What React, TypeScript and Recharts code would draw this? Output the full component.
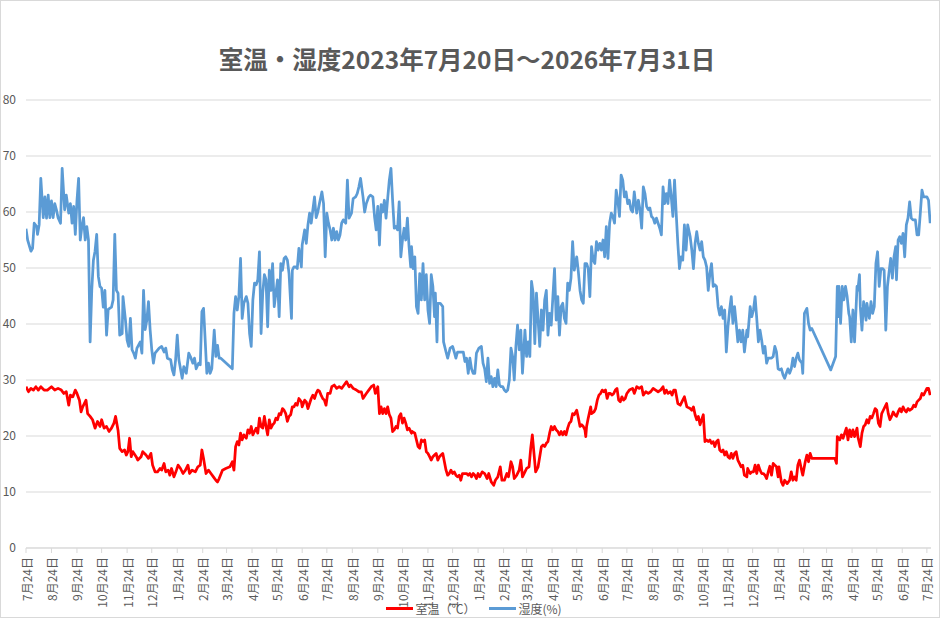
import { LineChart, Line, XAxis, YAxis, CartesianGrid, Legend } from "recharts";

// 日数は 2023/7/24 からの経過日
const humidity: [number, number][] = [
  [0,57],[2,55],[6,53],[8,53.5],[10,58],[13,57.4],[14,56],[16,57.7],[18,66],[21,59],[23,62.7],[25,58.9],[27,63],[29,59],[31,62],[33,59],[35,61.5],[37,60.4],[39,59],[42,58],[44,67.8],[47,60.4],[49,63],[52,59.8],[54,61.5],[56,58],[58,61],[60,56],[62,62],[64,66],[66,55],[68,57.4],[70,59],[72,55],[74,57.4],[76,55],[78,36.8],[80,46],[82,51.4],[84,53],[86,56],[88,48.5],[90,46.7],[92,46.4],[94,43],[96,46],[98,38],[100,42.6],[104,43],[106,44.3],[108,56],[110,46],[112,45.5],[114,38],[117,38.3],[118,44.9],[121,40.7],[123,37.1],[125,36],[127,41],[129,35.4],[131,34.8],[133,33.9],[135,35.7],[139,36.8],[141,34.8],[143,46],[145,39],[147,40.7],[149,44],[151,39],[153,35.4],[155,33],[157,34.8],[162,35.7],[165,36],[168,35],[170,35.7],[172,33.9],[176,33.6],[178,31.8],[180,30.9],[182,33.6],[184,38],[186,33.6],[190,30.3],[192,32.4],[195,31.2],[198,34.8],[200,34.2],[203,33],[205,33.9],[207,32],[210,33],[212,32.7],[214,42.2],[216,42.8],[218,37.1],[220,31.2],[222,33],[224,31.2],[226,32],[229,38.9],[231,34.2],[233,36.2],[235,33.9],[237,33.9],
  [251,32],[253,41.9],[255,44.9],[257,42.5],[259,44.9],[261,51.7],[263,41],[265,43.7],[268,44.9],[270,43.7],[272,38.3],[274,36],[276,44.3],[278,47.3],[280,47],[282,47.9],[284,52.9],[286,38.3],[288,45.5],[290,48.8],[292,47.9],[294,39.5],[296,49.6],[298,46],[300,50.8],[302,43.1],[304,45.5],[306,47.9],[308,41.3],[310,50.8],[312,49.6],[314,51.7],[316,52],[318,51.4],[320,49],[323,41],[324,49.6],[326,50.2],[328,50.2],[330,49.9],[332,53.5],[335,50.2],[336,54.1],[339,56.8],[341,54.4],[343,57.7],[345,59.8],[347,58],[349,60.4],[351,62.7],[353,59],[355,60],[357,61.5],[360,63.6],[362,61.5],[364,52],[366,59.8],[368,58],[370,56.8],[372,55],[374,57.1],[376,55],[378,56.5],[380,55],[382,55.9],[384,58],[386,58.6],[389,58],[391,65.7],[393,58.9],[396,59.8],[398,62.4],[401,62.7],[403,63.3],[405,64.5],[407,66],[410,62.7],[412,60],[414,61.5],[417,62.7],[419,63],[422,62.7],[424,59.2],[426,56.8],[428,61],[430,54.1],[432,61.3],[434,60],[436,62.1],[438,58.9],[440,62.4],[442,65.7],[444,67.8],[446,62.1],[448,57.1],[450,57.4],[452,56.8],[454,61.8],[456,52],[458,55],[460,57.1],[462,55],[464,58.9],[466,53.8],[468,50.2],[469,53.8],[471,49.9],[473,52],[475,43.1],[477,41.9],[479,49],[481,44.3],[483,50.8],[485,44.3],[487,48.8],[489,42.5],[491,40.1],[493,48.8],[495,46.7],[497,41.3],[498,45.5],[500,36.8],[501,43.7],[504,43.7],[507,43.1],[508,36.8],[511,35],[513,33.9],[516,35.7],[519,36],[521,35],[523,33.9],[525,35],[529,35],[532,35],[534,33.3],[536,33.9],[538,31.2],[540,33.9],[542,32],[544,31.2],[546,31.2],[548,34.8],[551,35.7],
  [554,36],[556,33],[558,32],[560,29.7],[562,33.9],[564,29.4],[566,30.6],[568,28.8],[570,30.3],[572,28.8],[574,31.8],[576,29.1],[578,28.8],[580,28.8],[582,28.2],[584,27.9],[586,28.2],[588,30],[590,35.7],[592,34.2],[594,30],[596,36],[598,39.8],[600,35.4],[602,38.9],[604,31.2],[607,38.9],[609,34.2],[611,36.8],[613,34.2],[615,47.6],[617,45.5],[619,36.5],[621,45.5],[623,40.7],[625,36],[627,42.5],[629,38.9],[631,44.3],[633,46],[635,38],[637,41.9],[639,39.8],[641,44.9],[643,49.9],[645,40.7],[647,44.9],[649,38],[651,43.1],[653,43.7],[655,41],[657,40.1],[659,47.3],[661,46],[663,48.2],[665,54.7],[667,49.6],[670,52],[672,49.3],[674,46],[676,44.3],[678,43.7],[680,50.8],[682,50.8],[684,49.9],[686,44.9],[688,53.8],[690,51.4],[692,50.8],[694,54.7],[696,53.2],[698,54.4],[700,53.2],[702,55],[704,52],[706,57.4],[708,51.7],[710,58],[712,59.8],[714,59.2],[716,58],[718,63.9],[720,62.1],[722,59.2],[724,66.6],[726,65.7],[728,62.7],[730,63.6],[732,61.5],[734,62.1],[736,60.4],[738,60],[740,63.6],[743,59.8],[745,62.1],[747,60.4],[749,57.1],[751,64.5],[753,63.3],[755,61],[757,60.4],[759,60.7],[761,59.2],[763,58.9],[765,58],[767,58.9],[769,58],[771,57.1],[773,55.9],[775,64.5],[777,61.5],[779,63.3],[781,61.5],[783,65.7],[785,62.7],[787,59.2],[789,65.7],[791,59.8],[793,54.4],[795,49.9],[797,52],[799,51.4],[801,57.7],[803,53.2],[805,57.7],[808,55.6],[810,53.2],[812,49.9],[814,54.4],[816,56.5],[818,54.4],[820,53.2],[822,54.7],[824,52],[826,51.4],[828,50.2],[830,46],[832,49],[834,50.8],[836,46.7],[838,47],[840,46.7],[842,43.1],[844,41.6],[846,43.1],[848,41],[850,42.5],[852,35],[854,39.5],[856,42.5],[858,44.9],[860,40.1],[862,43.1],[864,40.1],[866,36.8],[868,38.9],[870,36.8],[872,38.9],[874,35],[877,38.9],[878,37.7],[881,43.1],[883,41.3],[885,42.5],[887,44.9],[889,41],[891,36.8],[893,38.9],[895,37.1],[897,34.8],[899,36],[901,33],[903,33.9],[907,33.9],[909,34.2],[911,36],[913,35],[915,32],[917,31.8],[919,32],[921,30.9],[923,30.3],[925,31.2],[927,32],[929,31.2],[931,32],[933,33.9],[935,32.4],[937,33.9],[939,34.8],[941,33.6],[944,33],[945,31.2],[947,41.9],[950,42.8],[952,40.1],[954,38.9],[956,39.2],
  [979,31.8],[982,33],[985,34.2],[987,46.7],[988,41.3],[989,46.7],[991,40.1],[993,46.7],[995,44.3],[997,46.7],[999,44.9],[1001,41.9],[1002,41.3],[1004,36.8],[1006,42.5],[1008,36.8],[1011,46.7],[1012,46],[1014,48.8],[1015,43.1],[1017,38.9],[1019,44],[1022,40.7],[1023,43.7],[1026,41],[1028,44],[1030,41.9],[1032,43.1],[1034,50.8],[1036,52.9],[1038,46.7],[1040,49.9],[1042,49.9],[1044,49.6],[1046,38.9],[1048,46.7],[1050,49.3],[1052,51.7],[1054,48.2],[1056,52],[1058,53.8],[1059,47.9],[1061,55],[1063,55.6],[1065,54.4],[1067,56.2],[1069,52],[1071,57.7],[1073,58.9],[1075,61.8],[1077,58.9],[1079,58.6],[1082,58.6],[1084,55.9],[1086,55.9],[1088,59.8],[1090,63.9],[1092,62.7],[1094,62.7],[1096,62.7],[1098,62.1],[1100,58],
];

const temperature: [number, number][] = [
  [0,28.8],[3,27.9],[6,28.5],[9,28.2],[12,28.8],[15,28.2],[18,28.8],[22,28.2],[26,28.2],[31,28.8],[35,28.2],[39,28.5],[43,28.2],[46,27.6],[49,27.9],[52,25.5],[54,27.3],[57,27],[60,28.2],[62,27.6],[65,26.4],[67,24.3],[69,25.2],[73,26.4],[75,24],[78,23.5],[81,22.9],[84,21.4],[87,22.6],[90,21.7],[92,22.9],[95,21.4],[98,21.7],[101,20.8],[104,21.4],[107,22.3],[109,23.5],[112,21],[114,17.8],[117,17.2],[120,17.5],[122,16.6],[124,17.2],[126,19.6],[128,16.3],[130,17.2],[134,16.3],[136,15.7],[140,16.3],[142,17.2],[146,16.6],[149,16],[152,16.9],[154,14.8],[157,13.6],[160,13.6],[163,14.2],[165,13.9],[168,15.1],[170,13.6],[173,13.9],[175,13],[177,14.2],[180,12.7],[183,13.9],[185,14.8],[188,14.2],[191,13.3],[194,13.9],[197,14.8],[199,13.3],[202,13.9],[206,13.6],[209,14.5],[212,14.8],[214,17.5],[216,16],[219,13.3],[222,13.9],[225,13.3],[228,12.7],[231,12.1],[233,11.8],[235,12.4],[239,13.9],[243,14.2],[248,14.5],[251,15.4],[253,13.9],[255,18.1],[257,19],[259,18.4],[261,20.5],[263,19.3],[265,20.2],[268,19.6],[270,21.1],[272,20.5],[274,21.7],[276,20.2],[278,20.8],[280,21.4],[282,20.5],[284,23.2],[286,21.7],[288,21.4],[290,23.5],[292,21.7],[294,20.2],[296,22.9],[298,21.4],[300,22],[302,22.3],[304,23.2],[306,22.9],[308,24],[310,23.8],[312,24.9],[314,24.6],[316,24],[318,22.6],[320,23.5],[322,23.8],[324,25.2],[326,25.2],[328,25.8],[330,25.5],[332,26.7],[335,26.1],[336,25.2],[339,26.4],[341,26.1],[343,24.9],[345,25.8],[347,26.7],[349,27.3],[351,26.7],[353,27.6],[355,28.2],[357,28],[359,27.3],[361,26.7],[363,26.4],[365,25.5],[367,27.6],[370,27.6],[372,28.8],[375,29.1],[378,28.5],[381,28.8],[384,28.5],[387,29.1],[390,29.7],[393,28.8],[395,29.1],[398,28.5],[402,28.2],[405,27.9],[408,27.9],[410,26.7],[414,27.6],[417,28.2],[420,28.8],[423,29.1],[425,27.6],[428,28.8],[430,24],[432,25.2],[434,24],[436,24.9],[438,24],[440,25.2],[442,23.8],[444,23.2],[446,20.8],[448,21.1],[450,21.7],[452,21.4],[454,23.5],[456,24],[458,22.3],[460,23.2],[462,22.3],[464,21.1],[466,21.4],[469,20.5],[470,20.8],[473,20.5],[475,19.3],[477,18.1],[479,17.8],[481,19.3],[483,19],[485,19.3],[487,17.2],[489,16.9],[491,16.3],[493,15.7],[495,16.3],[497,16.6],[499,16.9],[501,15.7],[503,16.3],[505,16.6],[507,16.9],[509,15.4],[511,13.9],[513,13],[515,13.3],[517,13.9],[519,13.3],[521,13.6],[523,13],[525,12.7],[527,13],[529,12.1],[531,13.3],[536,13.3],[538,13],[540,13.3],[542,12.7],[544,13.3],[546,13],[548,12.4],[550,13.3],
  [552,12.7],[555,13.6],[558,13.3],[561,12.4],[563,13.3],[566,11.8],[569,11.2],[571,12.1],[574,12.7],[577,14.5],[579,12.1],[582,12.1],[585,13.3],[587,12.7],[590,15.4],[592,14.5],[594,12.4],[597,13],[600,13.9],[602,15.7],[604,12.7],[607,13.6],[609,14.2],[612,14.5],[614,17.8],[616,20.2],[618,16.9],[620,13.6],[623,14.5],[625,16.3],[627,18.1],[629,18.4],[631,18.1],[633,18.7],[635,19],[637,20.5],[639,21.7],[641,21.1],[643,21.7],[645,21.1],[647,20.8],[649,20.2],[651,20.8],[653,20.2],[655,20.8],[657,20.2],[659,21.4],[661,22.3],[663,22.6],[665,24],[667,23.8],[670,24.6],[672,23.2],[674,21.7],[676,22],[678,21.7],[680,21.1],[681,19.9],[682,21.7],[684,23.2],[687,25.2],[688,24],[691,24.3],[693,24.9],[695,26.4],[697,27.3],[699,27.6],[701,28.2],[703,27.9],[705,28.2],[707,26.7],[709,27.6],[711,27.6],[713,27.3],[715,27.6],[717,28.2],[719,28.5],[721,26.4],[723,26.1],[725,27],[727,26.4],[729,26.7],[731,27.6],[734,28.2],[738,28.5],[740,27.6],[743,28.8],[746,28.5],[749,28.8],[751,27.3],[754,27.9],[757,27.6],[760,27.9],[763,28.5],[766,28.2],[769,27.9],[772,28.2],[775,28.8],[777,27.6],[779,28.2],[781,27.6],[784,27.9],[786,27.3],[788,28.2],[790,28.2],[793,25.8],[796,25.5],[799,26.4],[801,27],[804,25.2],[808,24.9],[810,24.6],[812,25.2],[814,23.8],[816,22.9],[818,23.5],[820,22],[822,22.9],[824,23.8],[826,19],[828,19.3],[830,19],[832,19.3],[834,18.7],[836,19],[838,18.1],[840,19],[842,19.3],[844,17.5],[846,17.2],[848,17.5],[850,16.6],[852,17.2],[854,16.3],[856,16],[858,16.9],[860,16],[862,16.9],[864,17.2],[866,15.7],[868,15.1],[870,14.5],[872,14.8],[874,13],[877,12.7],[878,14.2],[881,13.3],[883,13.6],[885,13.6],[887,14.8],[889,13.3],[891,14.8],[893,13.9],[895,13.3],[897,13.3],[899,13],[901,12.4],[903,13.6],[905,14.6],[907,13],[909,15.1],[911,14.8],[913,14.5],[915,12.7],[916,14.5],[919,11.8],[921,11.2],[923,12.1],[926,11.5],[929,12.1],[931,13.6],[933,12.1],[935,12.7],[937,12.1],[939,14.8],[941,15.7],[944,13.6],[945,13],[948,15.4],[950,16.6],[952,15.4],[954,16.9],[956,16],
  [984,16],[986,15.1],[987,19.9],[990,19.3],[992,20.2],[994,19.6],[996,20.5],[998,21.4],[1000,19.3],[1002,21.1],[1004,19.9],[1006,21.1],[1008,19.9],[1011,21.4],[1012,19.9],[1015,18.1],[1017,20.5],[1019,21.7],[1021,22],[1023,22.9],[1025,22.3],[1027,23.5],[1029,23.2],[1031,24],[1033,24.9],[1035,24.6],[1037,22.3],[1039,21.7],[1041,24],[1043,24.6],[1045,25.2],[1047,25.8],[1049,24],[1051,22.9],[1053,23.5],[1055,24.3],[1057,23.8],[1059,23.5],[1061,24.3],[1063,24.9],[1065,24.3],[1067,25.2],[1069,24.6],[1071,24.3],[1073,24.9],[1075,24.6],[1078,24.9],[1080,25.5],[1082,25.2],[1084,26.1],[1086,26.4],[1088,26.7],[1090,27.6],[1092,27.3],[1094,27.9],[1096,28.5],[1098,28.5],[1100,27.3],
];

const Y_TICKS = [0, 10, 20, 30, 40, 50, 60, 70, 80];

// 目盛: 毎月24日
const START = Date.UTC(2023, 6, 24);
const X_TICKS = Array.from({ length: 37 }, (_, k) => (Date.UTC(2023, 6 + k, 24) - START) / 86400000);
const X_LABELS = Array.from({ length: 37 }, (_, k) => `${((6 + k) % 12) + 1}月24日`);

const humData = humidity.map(([day, v]) => ({ day, v }));
const tmpData = temperature.map(([day, v]) => ({ day, v }));

const FONT = '"Noto Sans CJK JP", "Noto Sans", sans-serif';
const TEXT = "#595959";
const GRID = "#d9d9d9";

function XTick({ x, y, payload }: any) {
  const i = X_TICKS.indexOf(payload.value);
  return (
    <text
      x={x}
      y={y}
      transform={`rotate(-90 ${x} ${y})`}
      textAnchor="end"
      dominantBaseline="central"
      fontSize={12}
      fill={TEXT}
      fontFamily={FONT}
    >
      {X_LABELS[i]}
    </text>
  );
}

function LegendBox() {
  const item = (color: string, label: string) => (
    <span style={{ display: "inline-flex", alignItems: "center", margin: "0 7px" }}>
      <span style={{ display: "inline-block", width: 27, height: 3, background: color, marginRight: 2 }} />
      <span>{label}</span>
    </span>
  );
  return (
    <div style={{ textAlign: "center", fontSize: 12, color: TEXT, fontFamily: FONT, paddingLeft: 8 }}>
      {item("#ff0000", "室温（℃）")}
      {item("#5b9bd5", "湿度(%)")}
    </div>
  );
}

export default function App() {
  return (
    <div
      style={{
        position: "relative",
        width: 940,
        height: 618,
        border: `1px solid ${GRID}`,
        boxSizing: "border-box",
        background: "#fff",
        fontFamily: FONT,
      }}
    >
      <style>{`body{margin:0}`}</style>
      <div
        style={{
          position: "absolute",
          top: 41,
          left: 0,
          width: 932,
          textAlign: "center",
          fontSize: 24.5,
          fontWeight: 700,
          color: TEXT,
          lineHeight: "34px",
        }}
      >
        室温・湿度2023年7月20日～2026年7月31日
      </div>
      <div style={{ position: "absolute", top: -1, left: -1 }}>
        <LineChart width={940} height={618} margin={{ top: 100, right: 9, bottom: 10, left: 0 }}>
          <CartesianGrid vertical={false} stroke={GRID} />
          <XAxis
            type="number"
            dataKey="day"
            domain={[0, 1101]}
            ticks={X_TICKS}
            interval={0}
            height={60}
            tick={<XTick />}
            tickSize={5}
            tickMargin={4}
            axisLine={{ stroke: GRID }}
            tickLine={{ stroke: GRID }}
            allowDataOverflow
          />
          <YAxis
            type="number"
            domain={[0, 80]}
            ticks={Y_TICKS}
            width={26}
            axisLine={false}
            tickLine={false}
            tickSize={0}
            tickMargin={10}
            tick={{ fill: TEXT, fontSize: 12, fontFamily: FONT }}
          />
          <Line
            data={tmpData}
            dataKey="v"
            name="室温（℃）"
            stroke="#ff0000"
            strokeWidth={2.75}
            dot={false}
            strokeLinejoin="round"
            isAnimationActive={false}
          />
          <Line
            data={humData}
            dataKey="v"
            name="湿度(%)"
            stroke="#5b9bd5"
            strokeWidth={2.75}
            dot={false}
            strokeLinejoin="round"
            isAnimationActive={false}
          />
          <Legend
            verticalAlign="middle"
            align="center"
            layout="horizontal"
            content={<LegendBox />}
            wrapperStyle={{ top: 596, left: 0, width: 940 }}
          />
        </LineChart>
      </div>
    </div>
  );
}
